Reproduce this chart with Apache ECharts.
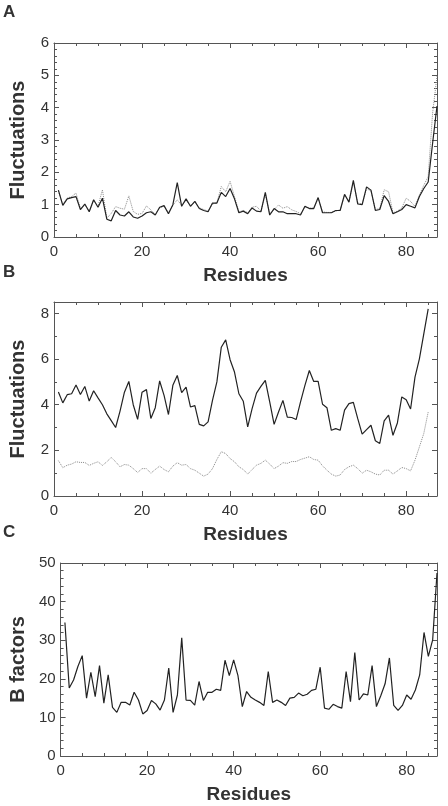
<!DOCTYPE html>
<html>
<head>
<meta charset="utf-8">
<script src="https://cdn.jsdelivr.net/npm/echarts@6/dist/echarts.min.js"></script>
<style>
  html, body { margin: 0; padding: 0; background: #fff; }
  #main { width: 448px; height: 806px; }
</style>
</head>
<body>
<div id="main"></div>
<script>
// residue numbers
var residues = [1,2,3,4,5,6,7,8,9,10,11,12,13,14,15,16,17,18,19,20,
  21,22,23,24,25,26,27,28,29,30,31,32,33,34,35,36,37,38,39,40,
  41,42,43,44,45,46,47,48,49,50,51,52,53,54,55,56,57,58,59,60,
  61,62,63,64,65,66,67,68,69,70,71,72,73,74,75,76,77,78,79,80,
  81,82,83,84,85,86,87];

// panel A - fluctuations
var fluctA_solid = [1.45,0.98,1.18,1.22,1.25,0.85,1.02,0.78,1.15,0.92,
  1.2,0.55,0.5,0.82,0.68,0.65,0.78,0.62,0.58,0.65,
  0.75,0.78,0.68,0.92,0.97,0.72,1.0,1.68,0.95,1.18,
  0.95,1.1,0.88,0.82,0.78,1.05,1.05,1.38,1.25,1.5,
  1.18,0.75,0.8,0.72,0.9,0.8,0.78,1.38,0.68,0.88,
  0.78,0.78,0.72,0.72,0.72,0.68,0.95,0.88,0.88,1.22,
  0.75,0.75,0.75,0.82,0.82,1.32,1.08,1.75,1.02,1.0,
  1.55,1.45,0.82,0.85,1.28,1.1,0.72,0.78,0.85,1.0,
  0.95,0.9,1.25,1.5,1.7,2.9,4.05];
var fluctA_dot = [1.42,1.0,1.2,1.25,1.36,0.88,1.0,0.8,1.12,0.95,
  1.46,0.58,0.73,0.94,0.89,0.86,1.27,0.79,0.7,0.73,
  0.96,0.84,0.7,0.9,0.95,0.75,0.98,1.15,0.98,1.12,
  0.98,1.08,0.9,0.85,0.8,1.02,1.06,1.56,1.4,1.72,
  1.25,0.78,0.82,0.75,0.92,0.95,0.8,1.32,0.72,0.85,
  0.99,0.89,0.94,0.84,0.79,0.72,0.92,0.9,0.9,1.2,
  0.78,0.76,0.76,0.8,0.84,1.28,1.1,1.7,1.05,1.02,
  1.5,1.42,0.85,0.88,1.46,1.4,0.75,0.8,0.9,1.2,
  1.1,0.95,1.3,1.6,1.87,3.83,4.97];

// panel B - fluctuations (85 residues)
var fluctB_solid = [4.56,4.08,4.44,4.48,4.86,4.45,4.8,4.16,4.61,4.3,
  4.0,3.6,3.3,3.0,3.72,4.55,5.02,4.0,3.36,4.55,
  4.66,3.4,3.87,5.04,4.41,3.57,4.85,5.28,4.53,4.77,
  3.9,3.96,3.14,3.07,3.25,4.19,5.0,6.52,6.84,5.97,
  5.43,4.48,4.15,3.03,3.83,4.51,4.8,5.07,4.12,3.14,
  3.68,4.19,3.46,3.44,3.35,4.12,4.85,5.5,5.02,5.02,
  4.02,3.87,2.88,2.95,2.88,3.76,4.05,4.1,3.39,2.71,
  2.91,3.1,2.42,2.3,3.29,3.54,2.66,3.2,4.34,4.22,
  3.81,5.21,6.01,7.1,8.2];
var fluctB_dot = [1.55,1.24,1.35,1.4,1.5,1.47,1.47,1.34,1.43,1.5,
  1.34,1.5,1.69,1.5,1.28,1.38,1.35,1.2,1.03,1.2,
  1.2,1.0,1.16,1.31,1.16,1.06,1.31,1.46,1.35,1.38,
  1.2,1.13,1.0,0.87,0.96,1.2,1.6,1.94,1.86,1.64,
  1.5,1.28,1.16,0.96,1.16,1.35,1.43,1.57,1.4,1.2,
  1.31,1.46,1.43,1.51,1.51,1.6,1.66,1.72,1.6,1.57,
  1.32,1.13,0.96,0.87,0.92,1.16,1.28,1.35,1.2,1.0,
  1.13,1.06,0.96,0.92,1.13,1.13,0.96,1.1,1.25,1.2,
  1.1,1.57,2.15,2.74,3.68];

// panel C - B factors
var bfactC = [34.6,17.6,19.7,23.2,26.0,15.0,21.7,15.4,23.4,13.7,
  21.0,12.6,11.3,13.9,13.9,13.2,16.5,14.5,10.9,11.8,
  14.4,13.5,11.9,14.5,22.8,11.3,15.8,30.6,14.5,14.4,
  13.2,19.3,14.4,16.5,16.5,17.3,17.0,24.8,20.8,24.9,
  20.8,12.8,16.7,15.2,14.5,13.9,13.1,21.9,13.9,14.5,
  13.9,13.1,15.0,15.2,16.3,15.6,16.0,17.0,17.3,23.0,
  12.4,12.1,13.4,12.8,12.4,21.9,14.1,26.8,14.5,16.1,
  15.8,23.4,12.8,15.6,18.7,25.4,13.1,11.8,13.1,15.8,
  14.7,17.1,21.0,32.0,25.8,30.1,47.4];

var panelLetters = ['A', 'B', 'C'];
var yNames = ['Fluctuations', 'Fluctuations', 'B factors'];
var xName = 'Residues';

var FONT = '"Liberation Sans", Arial, sans-serif';
var AXIS_COLOR = '#555';
var TEXT_COLOR = '#333';

// grid layout
var grids = [
  { left: 51, right: 11, top: 43, height: 194 },
  { left: 51, right: 11, top: 302, height: 194 },
  { left: 58, right: 11, top: 563, height: 193 }
];
var yMax = [6, 8.5, 50];
var yStep = [1, 2, 10];
var yMinorStep = [0.2, 1, 2];
var xNameGap = 29;
var yNameGap = [26, 26, 32];

function makeAxis(dim, g, pos, major, max, step, labelOn) {
  var ax = {
    type: 'value', gridIndex: g, position: pos,
    min: 0, max: max, interval: step,
    splitLine: { show: false },
    axisLine: { show: major, onZero: false, lineStyle: { color: AXIS_COLOR, width: 1 } },
    axisTick: { show: true, inside: true, length: major ? 5 : 3,
      lineStyle: { color: AXIS_COLOR, width: 1 } },
    axisLabel: { show: labelOn, fontFamily: FONT, fontSize: 15, color: TEXT_COLOR,
      margin: dim === 'x' ? 7 : 5,
      formatter: function (v) { return (Math.abs(v / step - Math.round(v / step)) < 1e-6) ? String(v) : ''; } }
  };
  return ax;
}

var xAxes = [], yAxes = [], series = [];
grids.forEach(function (gr, g) {
  var bx = makeAxis('x', g, 'bottom', true, 87, 20, true);
  bx.name = xName;
  bx.nameLocation = 'middle';
  bx.nameGap = xNameGap;
  bx.nameTextStyle = { fontFamily: FONT, fontSize: 19, fontWeight: 'bold', color: TEXT_COLOR };
  xAxes.push(bx);
  xAxes.push(makeAxis('x', g, 'top', true, 87, 20, false));
  xAxes.push(makeAxis('x', g, 'bottom', false, 87, 5, false));
  xAxes.push(makeAxis('x', g, 'top', false, 87, 5, false));

  var ly = makeAxis('y', g, 'left', true, yMax[g], yStep[g], true);
  ly.name = yNames[g];
  ly.nameLocation = 'middle';
  ly.nameGap = yNameGap[g];
  ly.nameTextStyle = { fontFamily: FONT, fontSize: 20, fontWeight: 'bold', color: TEXT_COLOR };
  yAxes.push(ly);
  yAxes.push(makeAxis('y', g, 'right', true, yMax[g], yStep[g], false));
  yAxes.push(makeAxis('y', g, 'left', false, yMax[g], yMinorStep[g], false));
  yAxes.push(makeAxis('y', g, 'right', false, yMax[g], yMinorStep[g], false));
});

function pairs(vals) {
  return vals.map(function (v, i) { return [residues[i], v]; });
}
function line(g, vals, dotted) {
  return {
    type: 'line', xAxisIndex: g * 4, yAxisIndex: g * 4,
    data: pairs(vals), showSymbol: false, symbol: 'none', silent: true,
    lineStyle: dotted
      ? { color: '#8a8a8a', width: 1, type: 'dotted' }
      : { color: '#222', width: 1.2 },
    z: dotted ? 2 : 3
  };
}
series.push(line(0, fluctA_dot, true));
series.push(line(0, fluctA_solid, false));
series.push(line(1, fluctB_dot, true));
series.push(line(1, fluctB_solid, false));
series.push(line(2, bfactC, false));

var letterTops = [4, 264, 524];
var titles = panelLetters.map(function (t, i) {
  return { text: t, left: 3, top: letterTops[i], padding: 0,
    textStyle: { fontFamily: FONT, fontSize: 17, fontWeight: 'bold', color: TEXT_COLOR } };
});

var chart = echarts.init(document.getElementById('main'));
chart.setOption({
  animation: false,
  backgroundColor: '#fff',
  title: titles,
  grid: grids,
  xAxis: xAxes,
  yAxis: yAxes,
  series: series
});
</script>
</body>
</html>
